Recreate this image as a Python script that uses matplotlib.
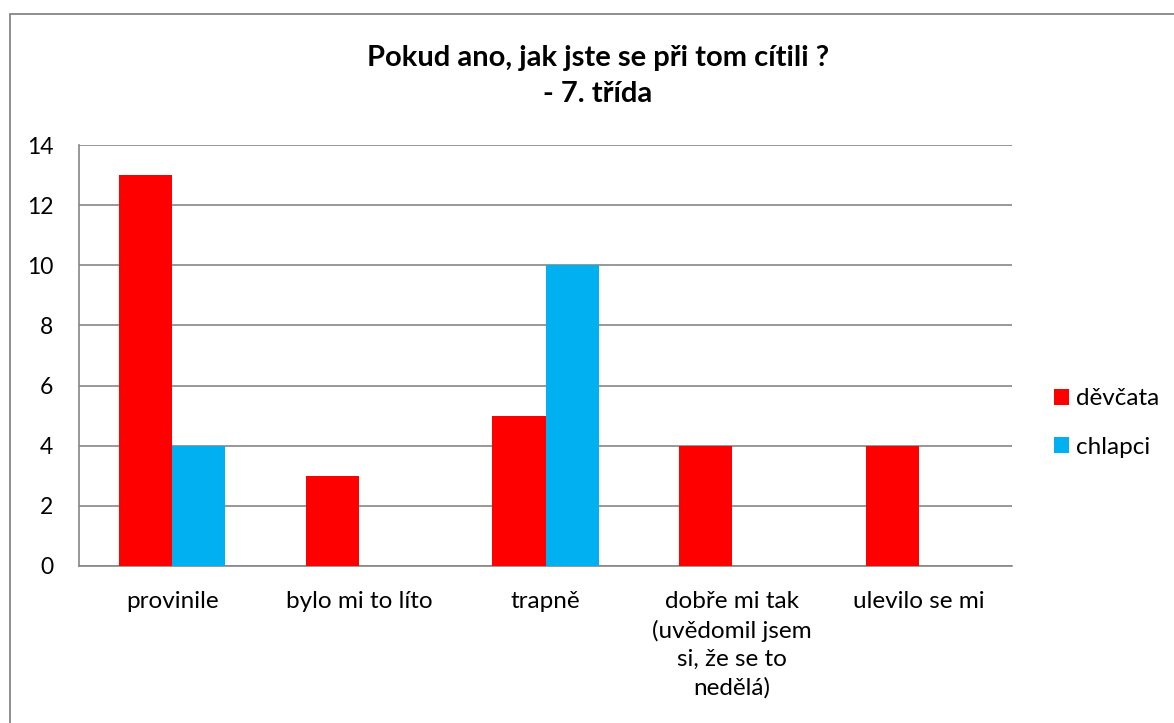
import numpy as np
import matplotlib.pyplot as plt
from matplotlib.patches import Rectangle

categories = ["provinile", "bylo mi to líto", "trapně",
              "dobře mi tak\n(uvědomil jsem\nsi, že se to\nnedělá)", "ulevilo se mi"]
devcata = [13, 3, 5, 4, 4]
chlapci = [4, 0, 10, 0, 0]
yticks = [0, 2, 4, 6, 8, 10, 12, 14]

plt.rcParams['font.family'] = ['Lato', 'DejaVu Sans']

fig = plt.figure(figsize=(11.74, 7.23), dpi=100)
ax = fig.add_axes([79/1174, 1 - 566/723, (1012 - 79)/1174, (566 - 145)/723])

x = np.arange(len(categories))
w = 0.285
ax.bar(x - w/2, devcata, w, color='#FF0000', label='děvčata', zorder=3)
ax.bar(x + w/2, chlapci, w, color='#00B0F0', label='chlapci', zorder=3)

ax.set_xlim(-0.5, len(categories) - 0.5)
ax.set_ylim(0, 14)
ax.set_yticks(yticks)
ax.set_xticks(x)
ax.set_xticklabels(categories, fontsize=17.5, linespacing=1.42)
ax.tick_params(axis='y', labelsize=16.5, length=0, pad=18.5)
ax.tick_params(axis='x', length=0, pad=18)
ax.yaxis.grid(True, color='#868686', linewidth=1.2, zorder=0)
for s in ['top', 'right']:
    ax.spines[s].set_visible(False)
for s in ['left', 'bottom']:
    ax.spines[s].set_color('#868686')
    ax.spines[s].set_linewidth(1.2)

fig.text(598/1174, 1 - 76/723, "Pokud ano, jak jste se při tom cítili ?\n- 7. třída",
         ha='center', va='center', fontsize=21, fontweight='bold', linespacing=1.45)

ax.legend(loc='center left', bbox_to_anchor=(1042/1174, 1 - 423/723),
          bbox_transform=fig.transFigure, frameon=False, fontsize=17.5,
          handlelength=0.6, handleheight=0.6, handletextpad=0.3, labelspacing=1.12,
          borderpad=0)

fig.patches.append(Rectangle((10/1174, -0.1), 1.2, 1 - 14/723 + 0.1,
                             transform=fig.transFigure, fill=False,
                             edgecolor='#868686', linewidth=1.3))

fig.savefig('out.png', dpi=100)
